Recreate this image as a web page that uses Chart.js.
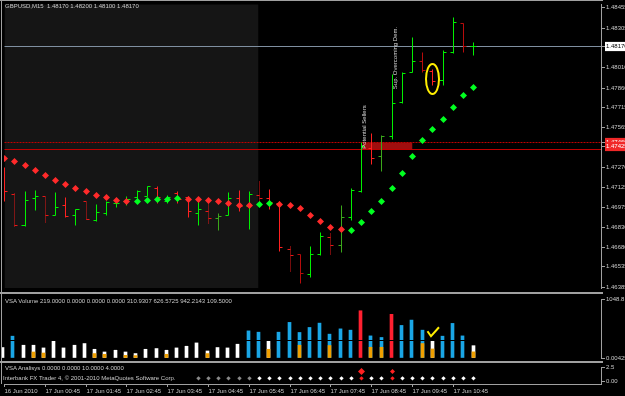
<!DOCTYPE html>
<html><head><meta charset="utf-8">
<script src="https://cdn.jsdelivr.net/npm/chart.js@4.4.1/dist/chart.umd.min.js"></script>
<style>
html,body{margin:0;padding:0;background:#000;}
#wrap{position:relative;width:625px;height:396px;overflow:hidden;background:#000;font-family:'Liberation Sans',Arial,sans-serif;}
canvas{position:absolute;left:0;display:block;}
.t{position:absolute;color:#c8c8c8;font-size:6px;line-height:7px;white-space:nowrap;}
.rot{position:absolute;color:#d8d8d8;font-size:6px;line-height:7px;white-space:nowrap;transform:translate(-50%,-50%) rotate(-90deg);}
.hl{position:absolute;background:#a0a0a0;}
</style></head>
<body><div id="wrap">
<canvas id="cPrice" width="625" height="292" style="top:0"></canvas>
<canvas id="cVol" width="625" height="71" style="top:292px"></canvas>
<canvas id="cAna" width="625" height="33" style="top:363px"></canvas>
<div class="hl" style="left:0;top:0;width:603px;height:1px"></div>
<div class="hl" style="left:1px;top:0;width:1px;height:384px"></div>
<div class="hl" style="left:0;top:292px;width:603px;height:2px"></div>
<div class="hl" style="left:0;top:361px;width:603px;height:2px"></div>
<div class="t" style="left:5px;top:3px">GBPUSD,M15&nbsp; 1.48170 1.48200 1.48100 1.48170</div>
<div class="t" style="left:5px;top:298px">VSA Volume 219.0000 0.0000 0.0000 0.0000 310.9307 626.5725 942.2143 109.5000</div>
<div class="t" style="left:5px;top:365px">VSA Analisys 0.0000 0.0000 10.0000 4.0000</div>
<div class="t" style="left:3px;top:375px">Interbank FX Trader 4, © 2001-2010 MetaQuotes Software Corp.</div>
<div class="rot" style="left:364px;top:127px">Potential Sellers</div>
<div class="rot" style="left:395px;top:58px">Sup. Overcoming Dem.</div>
</div>
<script>
// ---------- data ----------
const timeTickIndex = [0,4,8,12,16,20,24,28,32,36,40,44];
const timeTickLabels = ['16 Jun 2010','17 Jun 00:45','17 Jun 01:45','17 Jun 02:45','17 Jun 03:45','17 Jun 04:45','17 Jun 05:45','17 Jun 06:45','17 Jun 07:45','17 Jun 08:45','17 Jun 09:45','17 Jun 10:45'];
const priceTicks = [1.48455,1.48305,1.48170,1.48010,1.47860,1.47715,1.47565,1.47460,1.47425,1.47270,1.47125,1.46975,1.46830,1.46680,1.46535,1.46385];
const bidPrice = 1.48170;
const zoneTop = 1.47460;
const zoneBottom = 1.47405;
const zoneFrom = 35.1, zoneTo = 40.0;
const sessionEnd = 24.94;
const open  = [1.47260,1.47070,1.46844,1.47041,1.47056,1.46919,1.46990,1.46912,1.47019,1.46881,1.46927,1.47005,1.47019,1.47048,1.47058,1.47114,1.47019,1.47077,1.47048,1.46932,1.46948,1.46890,1.46919,1.47041,1.46980,1.47063,1.47041,1.47005,1.46664,1.46623,1.46475,1.46628,1.46755,1.46696,1.46902,1.47090,1.47413,1.47354,1.47502,1.47753,1.47976,1.48054,1.47983,1.47916,1.48122,1.48336,1.48170];
const high  = [1.47274,1.47077,1.47092,1.47099,1.47058,1.47085,1.47048,1.46961,1.47021,1.46999,1.47017,1.47029,1.47056,1.47101,1.47131,1.47134,1.47063,1.47094,1.47053,1.47041,1.47041,1.46932,1.47085,1.47101,1.47094,1.47174,1.47109,1.47017,1.46689,1.46625,1.46684,1.46791,1.46786,1.46992,1.47114,1.47456,1.47520,1.47507,1.47964,1.47976,1.48236,1.48127,1.48001,1.48139,1.48382,1.48341,1.48200];
const low   = [1.47019,1.46837,1.46837,1.46953,1.46866,1.46915,1.46902,1.46839,1.46883,1.46871,1.46919,1.46973,1.46990,1.47005,1.47053,1.47005,1.47005,1.47005,1.46900,1.46839,1.46859,1.46806,1.46915,1.46944,1.46815,1.46980,1.46963,1.46647,1.46502,1.46409,1.46453,1.46616,1.46623,1.46640,1.46876,1.47083,1.47296,1.47240,1.47478,1.47748,1.47974,1.47976,1.47879,1.47879,1.48118,1.48122,1.48100];
const close = [1.47092,1.46844,1.47026,1.47058,1.46919,1.46978,1.46910,1.46959,1.46888,1.46937,1.47010,1.47001,1.47034,1.47090,1.47129,1.47048,1.47048,1.47034,1.46944,1.46961,1.46890,1.46908,1.47041,1.46980,1.47072,1.47041,1.47012,1.46677,1.46616,1.46487,1.46623,1.46762,1.46696,1.46902,1.47101,1.47427,1.47338,1.47498,1.47746,1.47969,1.48061,1.47988,1.47908,1.48122,1.48346,1.48171,1.48170];
// bar class: up, down, upWeak, downWeak, downTest
const barClass = ['down','downTest','up','up','downTest','up','down','up','downTest','up','up','up','up','up','up','down','up','down','down','up','downTest','upWeak','up','down','up','downTest','down','down','downTest','downWeak','up','up','downTest','upWeak','up','up','down','upWeak','up','up','up','downWeak','down','up','up','downWeak','up'];
const sar = [1.47338,1.47316,1.47289,1.47247,1.47209,1.47174,1.47145,1.47116,1.47094,1.47065,1.47046,1.47029,1.47017,1.47017,1.47029,1.47036,1.47036,1.47041,1.47036,1.47036,1.47024,1.47017,1.47005,1.46988,1.46988,1.46999,1.47005,1.46999,1.46992,1.46968,1.46919,1.46871,1.46830,1.46810,1.46803,1.46866,1.46948,1.47021,1.47114,1.47228,1.47352,1.47471,1.47551,1.47629,1.47717,1.47806,1.47867];
const sarTrend = ['d','d','d','d','d','d','d','d','d','d','d','d','d','u','u','u','u','u','d','d','d','d','d','d','d','u','u','d','d','d','d','d','d','d','u','u','u','u','u','u','u','u','u','u','u','u','u'];
const volume = [186,388,227,227,179,304,179,227,257,155,107,138,107,79,155,168,138,179,209,268,125,186,179,245,482,459,298,459,633,454,543,620,424,518,495,840,393,365,776,579,674,495,298,388,615,393,219];
const volumeHalf = [null,null,null,107,89,null,null,null,null,79,66,null,48,43,null,null,66,null,null,null,79,null,null,null,null,null,155,null,null,227,null,null,222,null,null,null,191,191,null,null,null,257,161,null,null,null,109.5];
const volumeClass = ['n','h','n','n','n','n','n','n','n','n','n','n','n','n','n','n','n','n','n','n','n','n','n','n','h','h','n','h','h','h','h','h','h','h','h','x','h','h','x','h','h','h','n','h','h','h','n'];
const volumeAvg = 310.9307;
const volMax = 1048.8;
const analysisLevel = [null,null,null,null,null,null,null,null,null,null,null,null,null,null,null,null,null,null,null,0.5,0.5,0.5,0.5,0.5,0.5,0.5,0.5,0.5,0.5,0.5,0.5,0.5,0.5,0.5,0.5,0.5,0.5,0.5,0.5,0.5,0.5,0.5,0.5,0.5,0.5,0.5,0.5];
const analysisClass = ['o','o','o','o','o','o','o','o','o','o','o','o','o','o','o','o','o','o','o','o','o','o','o','o','o','a','a','a','a','a','a','a','a','a','a','s','a','a','s','a','a','a','a','a','a','a','a'];
const analysisSignal = {35:1.7, 38:1.7};
const markedBar = 42;

// ---------- styles ----------
const X_MIN = -0.06, X_MAX = 58.49;
const BAR_COL = {up:'#00f000', upWeak:'#3aa81a', down:'#ff2020', downWeak:'#b80c0c', downTest:'#e81818'};
const VOL_COL = {n:'#ffffff', h:'#1aa6e6', x:'#ff2030'};
const AN_COL = {o:'#8a8a8a', a:'#ffffff', s:'#ff2020'};
const GRAY = '#a0a0a0';
const FONT = {family:"'Liberation Sans', Arial, sans-serif", size:6};
Chart.defaults.font = FONT;
const N = open.length;
const idx = Array.from({length:N}, (_, i) => i);

// linear scale that snaps pixels to the pixel grid (crisp 1px bars like the terminal)
class SnapScale extends Chart.LinearScale {
  getPixelForValue(v){ const p = super.getPixelForValue(v); return Math.round(p - 0.5) + 0.5; }
}
SnapScale.id = 'snap';
SnapScale.defaults = Chart.LinearScale.defaults;
Chart.register(SnapScale);

function fixAxis(w, h){
  return function(s){
    if (w !== undefined) s.width = w;
    if (h !== undefined) s.height = h;
    s.paddingTop = 0; s.paddingBottom = 0; s.paddingLeft = 0; s.paddingRight = 0;
  };
}
function xAxis(display){
  return {type:'snap', min:X_MIN, max:X_MAX, offset:false, display:display, grid:{display:false}};
}
const common = {responsive:false, animation:false, devicePixelRatio:1, events:[],
  plugins:{legend:{display:false}, tooltip:{enabled:false}}};

// ---------- price chart ----------
const hlData = [], tickData = [];
idx.forEach(i => {
  hlData.push({x:i, y:low[i]}, {x:i, y:high[i]}, {x:i, y:null});
  tickData.push({x:i-0.3, y:open[i]}, {x:i, y:open[i]}, {x:i, y:null},
                {x:i, y:close[i]}, {x:i+0.3, y:close[i]}, {x:i, y:null});
});
const pxPerUnit = 13720;
const yMax = priceTicks[0] + 4/pxPerUnit;
const yMin = priceTicks[0] - 285/pxPerUnit;
const hlTicks = {1.4817:['#ffffff','#000000'], 1.4746:['#f02828','#ffffff'], 1.47425:['#f02828','#ffffff']};
function hlKey(v){ return Math.round(v*100000)/100000; }

const markPlugin = {
  id:'mark',
  afterDatasetsDraw(chart){
    const {ctx, scales:{x, y}} = chart;
    const cx = x.getPixelForValue(markedBar);
    const t = y.getPixelForValue(high[markedBar]), b = y.getPixelForValue(low[markedBar]);
    ctx.save(); ctx.strokeStyle = '#ffee00'; ctx.lineWidth = 2;
    ctx.beginPath(); ctx.ellipse(cx, (t+b)/2 + 1.5, 6.5, (b-t)/2 + 7, 0, 0, Math.PI*2); ctx.stroke();
    ctx.restore();
  }
};

new Chart(document.getElementById('cPrice'), {
  type:'line',
  data:{datasets:[
    {data:[{x:X_MIN, y:yMax}, {x:sessionEnd, y:yMax}], fill:'start', backgroundColor:'#151515',
     borderWidth:0, pointRadius:0, order:10},
    {data:[{x:zoneFrom, y:zoneTop}, {x:zoneTo, y:zoneTop}], fill:{value:zoneBottom}, backgroundColor:'#a00e0e',
     borderWidth:0, pointRadius:0, order:9},
    {data:[{x:X_MIN, y:bidPrice}, {x:X_MAX, y:bidPrice}], borderColor:'#7f8fa0', borderWidth:1, pointRadius:0, order:8},
    {data:[{x:X_MIN, y:zoneTop}, {x:X_MAX, y:zoneTop}], borderColor:'#c00000', borderDash:[2,1], borderWidth:1, pointRadius:0, order:8},
    {data:[{x:X_MIN, y:zoneBottom}, {x:X_MAX, y:zoneBottom}], borderColor:'#c00000', borderWidth:1, pointRadius:0, order:8},
    {data:hlData, borderWidth:1, pointRadius:0, order:2, spanGaps:false,
     segment:{
       borderColor: c => BAR_COL[barClass[Math.floor(c.p0DataIndex/3)]],
       borderDash: c => barClass[Math.floor(c.p0DataIndex/3)] === 'downTest' ? [1,1] : []
     }},
    {data:tickData, borderWidth:1, pointRadius:0, order:2, spanGaps:false,
     segment:{ borderColor: c => BAR_COL[barClass[Math.floor(c.p0DataIndex/6)]] }},
    {data:idx.map(i => ({x:i, y:sar[i]})), showLine:false, pointStyle:'rectRot', pointRadius:3.5,
     pointBorderWidth:0, pointBackgroundColor: idx.map(i => sarTrend[i] === 'u' ? '#00ff20' : '#ff2a2a'), order:0}
  ]},
  options:Object.assign({}, common, {
    layout:{padding:{left:2, top:2, bottom:1, right:0}},
    scales:{
      x:xAxis(false),
      y:{type:'snap', position:'right', min:yMin, max:yMax,
        afterFit:fixAxis(24),
        afterBuildTicks: s => { s.ticks = priceTicks.map(v => ({value:v})); },
        grid:{drawOnChartArea:false, tickLength:4, color:GRAY},
        border:{display:true, color:GRAY, width:1},
        ticks:{autoSkip:false, padding:1, font:FONT,
          callback: v => Number(v).toFixed(5),
          color: c => hlTicks[hlKey(c.tick.value)] ? hlTicks[hlKey(c.tick.value)][1] : '#c8c8c8',
          showLabelBackdrop: c => !!hlTicks[hlKey(c.tick.value)],
          backdropColor: c => hlTicks[hlKey(c.tick.value)] ? hlTicks[hlKey(c.tick.value)][0] : 'rgba(0,0,0,0)',
          backdropPadding:1}
      }
    }
  }),
  plugins:[markPlugin]
});

// ---------- volume chart ----------
const checkPlugin = {
  id:'check',
  afterDatasetsDraw(chart){
    const {ctx, scales:{x, y}} = chart;
    const cx = x.getPixelForValue(markedBar), ty = y.getPixelForValue(volume[markedBar]);
    ctx.save(); ctx.strokeStyle = '#ffee00'; ctx.lineWidth = 2;
    ctx.beginPath(); ctx.moveTo(cx-5, ty-10); ctx.lineTo(cx-1.5, ty-5); ctx.lineTo(cx+6.5, ty-14); ctx.stroke();
    ctx.restore();
  }
};
new Chart(document.getElementById('cVol'), {
  type:'bar',
  data:{datasets:[
    {type:'line', data:[{x:X_MIN, y:volumeAvg}, {x:X_MAX, y:volumeAvg}], borderColor:'#000000', borderWidth:1, pointRadius:0, order:-1},
    {data:idx.map(i => ({x:i, y:volumeHalf[i]})), backgroundColor:'#f0a000', barThickness:3, grouped:false, order:0},
    {data:idx.map(i => ({x:i, y:volume[i]})), backgroundColor:idx.map(i => VOL_COL[volumeClass[i]]), barThickness:3, grouped:false, order:1}
  ]},
  options:Object.assign({}, common, {
    layout:{padding:{left:2, top:7, bottom:5, right:0}},
    scales:{
      x:xAxis(false),
      y:{type:'linear', position:'right', min:0, max:volMax,
        afterFit:fixAxis(24),
        afterBuildTicks: s => { s.ticks = [{value:volMax}, {value:0}]; },
        grid:{drawOnChartArea:false, tickLength:4, color:GRAY},
        border:{display:true, color:GRAY, width:1},
        ticks:{autoSkip:false, padding:1, color:'#c8c8c8', font:FONT,
          callback: v => v === 0 ? '0.00425' : String(v)}
      }
    }
  }),
  plugins:[checkPlugin]
});

// ---------- analysis chart ----------
new Chart(document.getElementById('cAna'), {
  type:'line',
  data:{datasets:[
    {data:idx.map(i => ({x:i, y:analysisSignal[i] !== undefined ? analysisSignal[i] : null})), showLine:false,
     pointStyle:'rectRot', pointRadius: idx.map(i => i === 35 ? 3.5 : 2.5), pointBorderWidth:0, pointBackgroundColor:'#ff2020'},
    {data:idx.map(i => ({x:i, y:analysisLevel[i]})), showLine:false, pointStyle:'rectRot', pointRadius:2.2,
     pointBorderWidth:0, pointBackgroundColor:idx.map(i => AN_COL[analysisClass[i]])}
  ]},
  options:Object.assign({}, common, {
    layout:{padding:{left:2, top:3, bottom:0, right:0}},
    scales:{
      x:{type:'snap', min:X_MIN, max:X_MAX, offset:false, position:'bottom',
        afterFit:fixAxis(undefined, 12),
        afterBuildTicks: s => { s.ticks = timeTickIndex.map(v => ({value:v})); },
        grid:{drawOnChartArea:false, tickLength:3, color:GRAY},
        border:{display:true, color:GRAY, width:1},
        ticks:{autoSkip:false, maxRotation:0, align:'start', padding:1, color:'#c8c8c8', font:FONT,
          callback: (v, i) => timeTickLabels[i]}
      },
      y:{type:'linear', position:'right', min:-0.5, max:2.5,
        afterFit:fixAxis(24),
        afterBuildTicks: s => { s.ticks = [{value:2.5}, {value:0}]; },
        grid:{drawOnChartArea:false, tickLength:4, color:GRAY},
        border:{display:true, color:GRAY, width:1},
        ticks:{autoSkip:false, padding:1, color:'#c8c8c8', font:FONT,
          callback: v => v === 0 ? '0.00' : String(v)}
      }
    }
  })
});
</script>
</body></html>
